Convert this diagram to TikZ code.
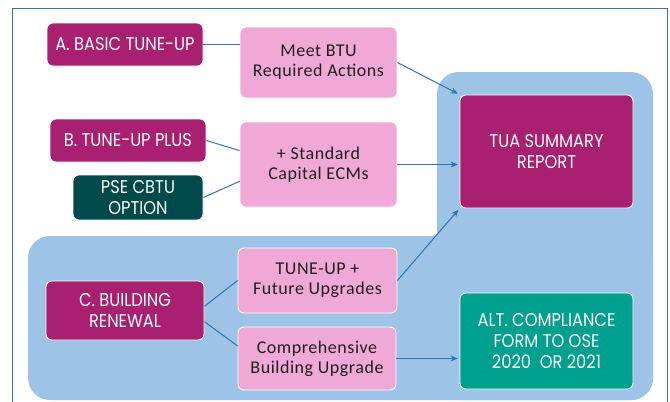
\documentclass[tikz,border=0pt]{standalone}
\usepackage{fontspec}
\setmainfont{Carlito}[LetterSpace=3]
\newfontfamily\capsfont{Poppins}[FakeStretch=0.88]
\usetikzlibrary{arrows.meta}
\definecolor{plum}{HTML}{A8206F}
\definecolor{boxpink}{HTML}{F0A9D6}
\definecolor{deepteal}{HTML}{004A4B}
\definecolor{altteal}{HTML}{00A08F}
\definecolor{backblue}{HTML}{9DC3E6}
\definecolor{linkblue}{HTML}{2E75B6}
\definecolor{inkgray}{HTML}{1E1E1E}
\tikzset{
  pinkbox/.style={draw=white, line width=0.8pt, rounded corners=6pt, fill=boxpink,
    text=inkgray, align=center, inner sep=0pt, font=\fontsize{18}{20}\selectfont},
  plumbox/.style={draw=white, line width=0.8pt, rounded corners=6pt, fill=plum,
    text=white, align=center, inner sep=0pt, font=\capsfont\fontsize{18.5}{21}\selectfont},
  link/.style={draw=linkblue, line width=1pt},
  arrowlink/.style={link, -{Stealth[length=7pt,width=6pt]}, shorten >=2pt},
}
\begin{document}
\begin{tikzpicture}[x=1pt, y=-1pt]
  \useasboundingbox (0,0) rectangle (670,402);
  % frame
  \draw[linkblue, line width=0.8pt] (12.5,8.5) rectangle (667,420);
  % blue backdrop
  \fill[backblue, rounded corners=22pt] (437,72) rectangle (653,400);
  \fill[backblue, rounded corners=22pt] (28,236) rectangle (653,400);
  % row A
  \node[plumbox, minimum width=156pt, minimum height=43pt] (basic) at (125,44.5) {A. BASIC TUNE-UP};
  \node[pinkbox, minimum width=157pt, minimum height=71pt] (meet) at (318.5,62.5) {Meet BTU\\Required Actions};
  % row B
  \node[plumbox, minimum width=156pt, minimum height=43pt] (plus) at (128,140.5) {B. TUNE-UP PLUS};
  \node[plumbox, fill=deepteal, minimum width=130pt, minimum height=45pt] (pse) at (138,197.5) {PSE CBTU\\OPTION};
  \node[pinkbox, minimum width=157pt, minimum height=85pt] (ecms) at (318.5,164.5) {+ Standard\\Capital ECMs};
  % results
  \node[plumbox, minimum width=173pt, minimum height=113pt] (tua) at (546.5,151.5) {TUA SUMMARY\\REPORT};
  \node[plumbox, fill=altteal, minimum width=173pt, minimum height=96pt] (alt) at (546.5,341) {ALT. COMPLIANCE\\FORM TO OSE\\2020~ OR 2021};
  % row C
  \node[plumbox, minimum width=158pt, minimum height=59pt] (renewal) at (125,310.5) {C. BUILDING\\RENEWAL};
  \node[pinkbox, minimum width=159pt, minimum height=65pt] (future) at (317.5,280.5) {TUNE-UP +\\Future Upgrades};
  \node[pinkbox, minimum width=158pt, minimum height=63pt] (compr) at (317,358.5) {Comprehensive\\Building Upgrade};
  % connectors
  \draw[link] (basic.east) -- (meet.west |- basic.east);
  \draw[link] (plus.east) -- (ecms.170);
  \draw[link] (pse.east) -- (ecms.192);
  \draw[link] (renewal.3) -- (future.west);
  \draw[link] (renewal.-8) -- (compr.171);
  \draw[arrowlink] (meet.east) -- (tua.north west);
  \draw[arrowlink] (ecms.east) -- (ecms.east -| tua.west);
  \draw[arrowlink] (future.east) -- (tua.south west);
  \draw[arrowlink] (compr.east) -- (compr.east -| alt.west);
\end{tikzpicture}
\end{document}
